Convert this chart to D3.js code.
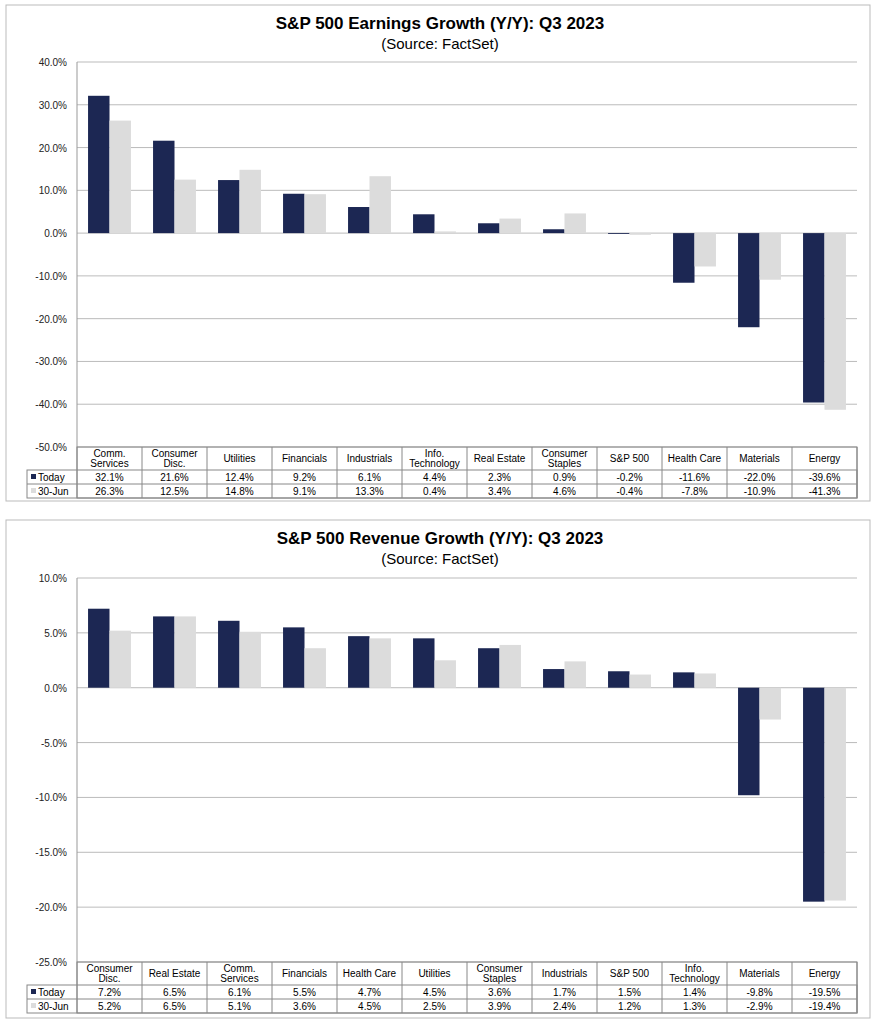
<!DOCTYPE html>
<html><head><meta charset="utf-8">
<script src="https://cdn.jsdelivr.net/npm/d3@7"></script>
<style>body{margin:0;background:#fff;font-family:"Liberation Sans",Arial,sans-serif}</style>
</head><body><svg id="chart" width="879" height="1024"></svg>
<script>
var earnCats = ["Comm.\nServices","Consumer\nDisc.","Utilities","Financials","Industrials","Info.\nTechnology","Real Estate","Consumer\nStaples","S&P 500","Health Care","Materials","Energy"];
var earnToday = [32.1,21.6,12.4,9.2,6.1,4.4,2.3,0.9,-0.2,-11.6,-22.0,-39.6];
var earnJun = [26.3,12.5,14.8,9.1,13.3,0.4,3.4,4.6,-0.4,-7.8,-10.9,-41.3];
var earnTicks = [40,30,20,10,0,-10,-20,-30,-40,-50];

var revCats = ["Consumer\nDisc.","Real Estate","Comm.\nServices","Financials","Health Care","Utilities","Consumer\nStaples","Industrials","S&P 500","Info.\nTechnology","Materials","Energy"];
var revToday = [7.2,6.5,6.1,5.5,4.7,4.5,3.6,1.7,1.5,1.4,-9.8,-19.5];
var revJun = [5.2,6.5,5.1,3.6,4.5,2.5,3.9,2.4,1.2,1.3,-2.9,-19.4];
var revTicks = [10,5,0,-5,-10,-15,-20,-25];

var svg = d3.select("#chart");

function drawPanel(o){
	var g = svg.append("g").attr("transform","translate(0,"+o.top+")");
	g.append("rect").attr("x",6).attr("y",0).attr("width",864).attr("height",o.h)
		.attr("fill","none").attr("stroke","#bbb");
	g.append("text").attr("x",440).attr("y",24).attr("text-anchor","middle")
		.attr("font-size",17).attr("font-weight","bold").text(o.title);
	g.append("text").attr("x",440).attr("y",44).attr("text-anchor","middle")
		.attr("font-size",15).text("(Source: FactSet)");

	var left = 77, right = 857;
	var y = d3.scaleLinear().domain([o.ticks[o.ticks.length-1], o.ticks[0]]).range([o.plotBottom, o.plotTop]);
	var x = d3.scaleBand().domain(d3.range(o.cats.length)).range([left,right]);
	var bw = x.bandwidth();

	g.selectAll(".grid").data(o.ticks).enter().append("line")
		.attr("x1",left).attr("x2",right).attr("y1",function(d){return y(d);}).attr("y2",function(d){return y(d);})
		.attr("stroke","#aaa").attr("stroke-width",0.8);
	g.append("line").attr("x1",left).attr("x2",left).attr("y1",o.plotTop).attr("y2",o.plotBottom).attr("stroke","#999");
	g.selectAll(".tick").data(o.ticks).enter().append("text")
		.attr("x",67).attr("y",function(d){return y(d)+4;}).attr("text-anchor","end")
		.attr("font-size",10).attr("fill","#222").text(function(d){return d.toFixed(1)+"%";});

	var series = [{v:o.today,c:"#1c2753",off:0.17},{v:o.jun,c:"#dcdcdc",off:0.5}];
	series.forEach(function(s){
		g.selectAll(null).data(s.v).enter().append("rect")
			.attr("x",function(d,i){return x(i)+bw*s.off;})
			.attr("width",bw*0.33)
			.attr("y",function(d){return y(Math.max(0,d));})
			.attr("height",function(d){return Math.abs(y(d)-y(0));})
			.attr("fill",s.c);
	});

	// data table
	var tb = o.plotBottom, r0 = 23, r1 = 14;
	var tl = 27;
	g.append("rect").attr("x",tl).attr("y",tb+r0).attr("width",right-tl).attr("height",r1*2).attr("fill","none").attr("stroke","#888");
	g.append("rect").attr("x",left).attr("y",tb).attr("width",right-left).attr("height",r0+r1*2).attr("fill","none").attr("stroke","#888");
	g.append("line").attr("x1",tl).attr("x2",right).attr("y1",tb+r0+r1).attr("y2",tb+r0+r1).attr("stroke","#888");
	g.selectAll(null).data(d3.range(o.cats.length+1)).enter().append("line")
		.attr("x1",function(i){return i<o.cats.length?x(i):right;}).attr("x2",function(i){return i<o.cats.length?x(i):right;})
		.attr("y1",tb).attr("y2",tb+r0+r1*2).attr("stroke","#888");
	o.cats.forEach(function(c,i){
		var lines = c.split("\n");
		lines.forEach(function(l,j){
			g.append("text").attr("x",x(i)+bw/2).attr("y",tb+(lines.length==1?15:10+j*10))
				.attr("text-anchor","middle").attr("font-size",10).text(l);
		});
		g.append("text").attr("x",x(i)+bw/2).attr("y",tb+r0+11).attr("text-anchor","middle").attr("font-size",10).text(o.today[i].toFixed(1)+"%");
		g.append("text").attr("x",x(i)+bw/2).attr("y",tb+r0+r1+11).attr("text-anchor","middle").attr("font-size",10).text(o.jun[i].toFixed(1)+"%");
	});
	[["Today","#1c2753"],["30-Jun","#dcdcdc"]].forEach(function(l,k){
		var yy = tb+r0+r1*k;
		g.append("rect").attr("x",31).attr("y",yy+4).attr("width",5).attr("height",5).attr("fill",l[1]);
		g.append("text").attr("x",38).attr("y",yy+11).attr("font-size",10).text(l[0]);
	});
}

drawPanel({top:5,h:496,title:"S&P 500 Earnings Growth (Y/Y): Q3 2023",cats:earnCats,today:earnToday,jun:earnJun,ticks:earnTicks,plotTop:57,plotBottom:442});
drawPanel({top:520,h:498,title:"S&P 500 Revenue Growth (Y/Y): Q3 2023",cats:revCats,today:revToday,jun:revJun,ticks:revTicks,plotTop:58,plotBottom:442});
</script></body></html>
